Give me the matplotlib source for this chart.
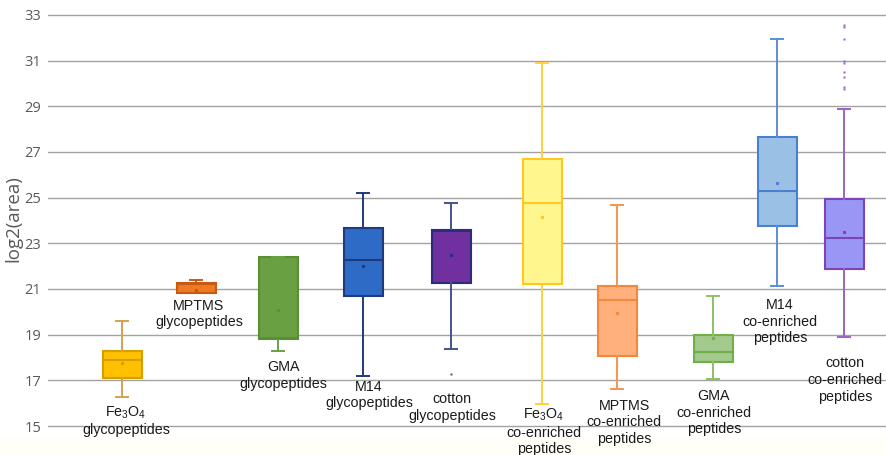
import matplotlib
matplotlib.use("Agg")
import matplotlib.pyplot as plt
from matplotlib.patches import Rectangle

plt.rcParams['font.family'] = ['Liberation Sans', 'DejaVu Sans']
plt.rcParams['mathtext.fontset'] = 'custom'
plt.rcParams['mathtext.rm'] = 'Liberation Sans'
plt.rcParams['mathtext.default'] = 'regular'

# ---------------- data ----------------
labels = ["Fe$_3$O$_4$\nglycopeptides", "MPTMS\nglycopeptides", "GMA\nglycopeptides",
          "M14\nglycopeptides", "cotton\nglycopeptides",
          "Fe$_3$O$_4$\nco-enriched\npeptides", "MPTMS\nco-enriched\npeptides",
          "GMA\nco-enriched\npeptides", "M14\nco-enriched\npeptides",
          "cotton\nco-enriched\npeptides"]
whisker_low = [16.28, 20.81, 18.29, 17.19, 18.37, 15.96, 16.63, 17.06, 21.15, 18.89]
q1          = [17.09, 20.81, 18.80, 20.71, 21.28, 21.21, 18.08, 17.79, 23.77, 21.89]
median      = [17.89, 21.22, 18.86, 22.26, 23.54, 24.75, 20.52, 18.23, 25.31, 23.23]
q3          = [18.30, 21.25, 22.39, 23.66, 23.60, 26.68, 21.13, 18.97, 27.66, 24.94]
whisker_high= [19.60, 21.39, 22.39, 25.22, 24.78, 30.89, 24.69, 20.68, 31.94, 28.86]
means       = [17.77, 20.96, 20.08, 22.00, 22.48, 24.17, 19.94, 18.84, 25.66, 23.51]
outliers    = [[], [], [], [], [17.28], [], [], [],  [],
               [32.56, 32.45, 31.95, 30.99, 30.89, 30.48, 30.26, 29.86, 29.75]]
yticks = [15, 17, 19, 21, 23, 25, 27, 29, 31, 33]

# ---------------- layout / style ----------------
positions = [122, 196, 278, 363, 451, 542, 617, 713, 777, 844]
label_x   = [126, 199, 283, 369, 452, 544, 624, 714, 780, 845]
label_top = [15.96, 20.58, 17.90, 17.03, 16.49, 15.86, 16.20, 16.63, 20.61, 18.05]
fills  = ['#FFC000', '#F07A22', '#69A142', '#2E6BC6', '#7030A0',
          '#FFF68E', '#FFB07D', '#A3C98C', '#9BC0E6', '#9A96F6']
edges  = ['#D69F00', '#C65A14', '#5A8F36', '#1F3A7F', '#2B2C7C',
          '#FFC820', '#F5873A', '#6EAF48', '#4A80D0', '#7E44B6']
wcols  = ['#D6A04E', '#C65A14', '#6AA044', '#1F3A7F', '#44528E',
          '#FFD040', '#F5954E', '#8CC066', '#5B8ED8', '#9A62C8']

fig = plt.figure(figsize=(8.86, 4.55), dpi=100)
fig.patch.set_facecolor('white')
fig.patches.append(Rectangle((0, 0), 1, 18/455, transform=fig.transFigure,
                             facecolor='#FFFEF7', edgecolor='none', zorder=-5))
ax = fig.add_axes([48/886, 18/455, 838/886, 437/455])
ax.set_facecolor('white')

stats = []
for i in range(len(labels)):
    stats.append(dict(whislo=whisker_low[i], q1=q1[i], med=median[i], q3=q3[i],
                      whishi=whisker_high[i], mean=means[i], fliers=outliers[i]))

for i, st in enumerate(stats):
    ax.bxp([st], positions=[positions[i]], widths=39, capwidths=12,
           showmeans=True, showfliers=True, patch_artist=True,
           boxprops=dict(facecolor=fills[i], edgecolor=edges[i], linewidth=1.5),
           medianprops=dict(color=edges[i], linewidth=1.5),
           whiskerprops=dict(color=wcols[i], linewidth=1.4),
           capprops=dict(color=wcols[i], linewidth=1.4),
           meanprops=dict(marker='s', markersize=1.3, markerfacecolor=edges[i],
                          markeredgecolor=edges[i]),
           flierprops=dict(marker='s', markersize=1.7, markerfacecolor=wcols[i],
                           markeredgecolor='none'),
           zorder=3)

for i, lab in enumerate(labels):
    ax.text(label_x[i], label_top[i], lab, ha='center', va='top', fontsize=10.3,
            color='#1A1A1A', linespacing=1.25, zorder=4, clip_on=False)

ax.set_xlim(48, 886)
ax.set_ylim(14.52, 33.65)
ax.set_yticks(yticks)
ax.set_yticklabels([str(t) for t in yticks], fontsize=10.5, color='#595959',
                   family=['Open Sans', 'DejaVu Sans'])
ax.tick_params(axis='y', length=0, pad=5)
ax.set_xticks([])
ax.grid(axis='y', color='#A3A3A3', linewidth=1.0, zorder=0)
ax.set_axisbelow(True)
for s in ax.spines.values():
    s.set_visible(False)
ax.set_ylabel('log2(area)', fontsize=13.5, color='#595959', labelpad=1,
              family=['Open Sans', 'DejaVu Sans'])

fig.savefig('out.png', dpi=100, facecolor=fig.get_facecolor())
